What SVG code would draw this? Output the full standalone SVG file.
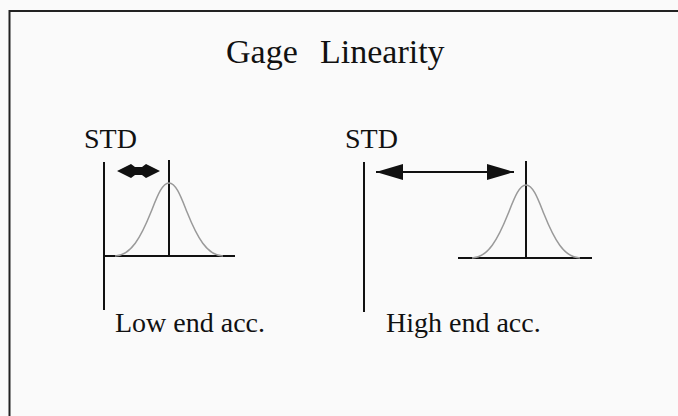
<svg xmlns="http://www.w3.org/2000/svg" width="678" height="416" viewBox="0 0 678 416">
  <style>
    .txt { font-family: "Liberation Serif", "Times New Roman", serif; fill: #111; }
    .axis { stroke: #111; stroke-width: 2; fill: none; }
    .bell { stroke: #9a9a9a; stroke-width: 1.5; fill: none; }
    .frame { stroke: #222; stroke-width: 2; fill: none; }
  </style>
  <defs>
    <marker id="ah" viewBox="0 0 27 16" refX="27" refY="8" markerWidth="27" markerHeight="16" markerUnits="userSpaceOnUse" orient="auto-start-reverse">
      <path d="M0,0 L27,8 L0,16 Z" fill="#111"/>
    </marker>
  </defs>
  <rect x="0" y="0" width="678" height="416" fill="#fafafa"/>
  <path class="frame" d="M9.5,416 L9.5,11 L678,11"/>

  <g id="title">
    <text class="txt" font-size="34" y="63"><tspan x="226">Gage</tspan><tspan x="320">Linearity</tspan></text>
  </g>

  <g id="low-end">
    <text class="txt" font-size="28" x="84" y="148">STD</text>
    <line class="axis" x1="104" y1="162" x2="104" y2="310"/>
    <line class="axis" x1="104" y1="256" x2="235" y2="256"/>
    <line class="axis" x1="169" y1="160" x2="169" y2="256"/>
    <path class="bell" d="M115,256 C131,255.5 141,237 151,212 C157,197 162,183 169,183 C176,183 181,197 187,212 C197,237 207,255.5 223,256"/>
    <text class="txt" font-size="28" x="115" y="332">Low end acc.</text>
  </g>

  <g id="high-end">
    <text class="txt" font-size="28" x="345" y="148">STD</text>
    <line class="axis" x1="364" y1="162" x2="364" y2="312"/>
    <line class="axis" x1="458" y1="258" x2="592" y2="258"/>
    <line class="axis" x1="526" y1="161" x2="526" y2="258"/>
    <path class="bell" d="M472,258 C488,257.5 498,239 508,214 C514,199 519,185 526,185 C533,185 538,199 544,214 C554,239 564,257.5 580,258"/>
    <text class="txt" font-size="28" x="386" y="332">High end acc.</text>
  </g>

  <g id="connectors">
    <polygon points="117,171 131,164 135,167 142,167 146,164 160,171 146,178 142,175 135,175 131,178" fill="#111"/>
    <line x1="376" y1="172" x2="514" y2="172" stroke="#111" stroke-width="2" marker-start="url(#ah)" marker-end="url(#ah)"/>
  </g>
</svg>
